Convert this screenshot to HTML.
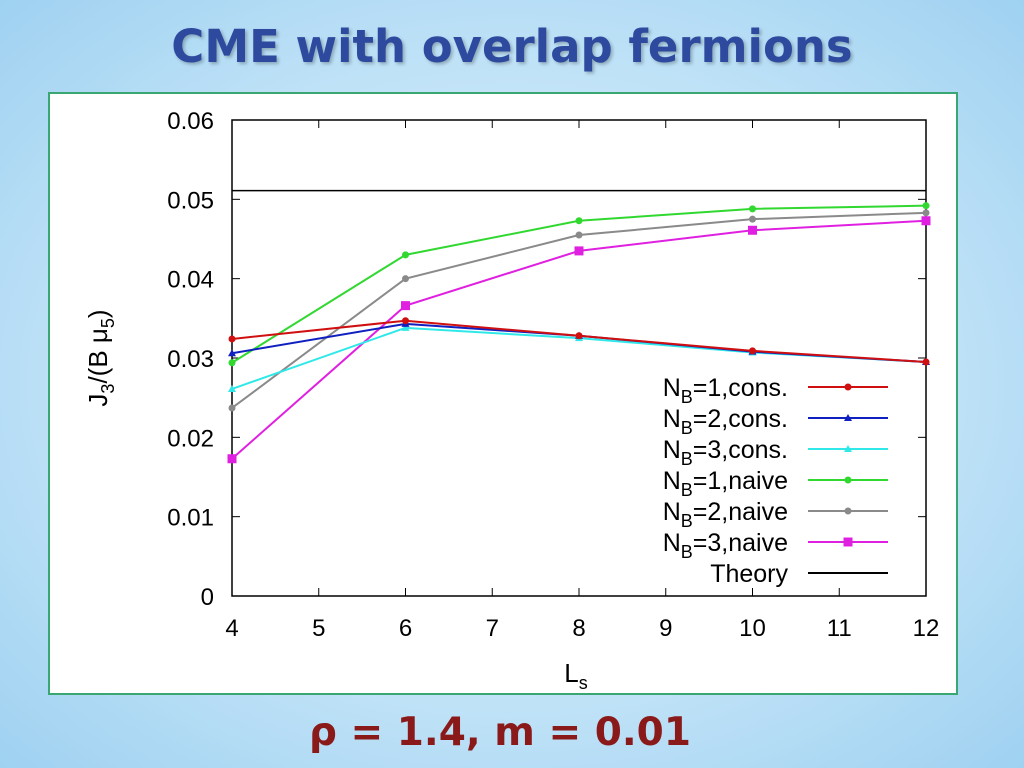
<!DOCTYPE html>
<html><head><meta charset="utf-8"><style>
body{margin:0;width:1024px;height:768px;overflow:hidden;background:radial-gradient(ellipse at center,#e6f4fc 0%,#bfe2f7 60%,#9fd1f1 100%);font-family:"Liberation Sans",sans-serif;}
#title{position:absolute;left:0;width:1024px;top:20px;text-align:center;font-size:45px;font-weight:bold;color:#2d4a9e;font-family:"DejaVu Sans",sans-serif;text-shadow:2px 2px 3px rgba(0,0,0,0.25);}
#panel{position:absolute;left:48px;top:92px;width:906px;height:599px;background:#fff;border:2px solid #3aa772;}
#sub{position:absolute;left:0;width:1000px;top:710px;text-align:center;font-size:39px;font-weight:bold;color:#8a1a1a;font-family:"DejaVu Sans",sans-serif;}
</style></head><body>
<div id="title">CME with overlap fermions</div>
<div id="panel"></div>
<svg id="chart" width="1024" height="768" style="position:absolute;left:0;top:0" font-family="Liberation Sans, sans-serif"></svg>
<div id="sub">ρ = 1.4, m = 0.01</div>
<script>
const xs=[4,6,8,10,12];
const xTicks=[4,5,6,7,8,9,10,11,12];
const yTicks=[0,0.01,0.02,0.03,0.04,0.05,0.06];
const yTickLabels=["0","0.01","0.02","0.03","0.04","0.05","0.06"];
const nb1cons=[0.0324,0.0347,0.0328,0.0309,0.0295];
const nb2cons=[0.0306,0.0343,0.0328,0.0308,0.0295];
const nb3cons=[0.0261,0.0338,0.0325,0.0307,0.0295];
const nb1naive=[0.0294,0.0430,0.0473,0.0488,0.0492];
const nb2naive=[0.0237,0.0400,0.0455,0.0475,0.0483];
const nb3naive=[0.0173,0.0366,0.0435,0.0461,0.0473];
const theory=0.0511;
const seriesNames=["NB=1,cons.","NB=2,cons.","NB=3,cons.","NB=1,naive","NB=2,naive","NB=3,naive"];
const svg=document.getElementById('chart');const NS='http://www.w3.org/2000/svg';
const X0=232,X1=926,Y0=596,Y1=120;
const sx=v=>X0+(v-4)/(12-4)*(X1-X0);
const sy=v=>Y0-(v-0)/(0.06)*(Y0-Y1);
function mk(t,a,p){const e=document.createElementNS(NS,t);for(const k in a)e.setAttribute(k,a[k]);(p||svg).appendChild(e);return e;}
let f=mk('rect',{x:X0,y:Y1,width:X1-X0,height:Y0-Y1,fill:'none',stroke:'#000','stroke-width':1.5});


xTicks.forEach(t=>{const x=sx(t);mk('line',{x1:x,x2:x,y1:Y0,y2:Y0-8,stroke:'#000'});mk('line',{x1:x,x2:x,y1:Y1,y2:Y1+8,stroke:'#000'});
const l=mk('text',{x:x,y:Y0+40,'text-anchor':'middle','font-size':24});l.textContent=t;

});
yTicks.forEach((t,i)=>{const y=sy(t);mk('line',{x1:X0,x2:X0+8,y1:y,y2:y,stroke:'#000'});mk('line',{x1:X1,x2:X1-8,y1:y,y2:y,stroke:'#000'});
const l=mk('text',{x:X0-18,y:y+9,'text-anchor':'end','font-size':24});l.textContent=yTickLabels[i];

});
let xt=mk('text',{x:576,y:682,'text-anchor':'middle','font-size':26});xt.innerHTML='L<tspan font-size="18" dy="7">s</tspan>';


let yt=mk('text',{x:0,y:0,'text-anchor':'middle','font-size':26,transform:'translate(107,358) rotate(-90)'});yt.innerHTML='J<tspan font-size="18" dy="7">3</tspan><tspan dy="-7">/(B μ</tspan><tspan font-size="18" dy="7">5</tspan><tspan dy="-7">)</tspan>';


let th=mk('line',{x1:X0,x2:X1,y1:sy(theory),y2:sy(theory),stroke:'#000','stroke-width':1.5});


const cfg=[[nb1cons,'#d01010','circle'],[nb2cons,'#1020c0','tri'],[nb3cons,'#30e8e8','tri'],[nb1naive,'#30d830','circle'],[nb2naive,'#8a8a8a','circle'],[nb3naive,'#e020e0','square']];
function marker(x,y,c,s){if(s==='square')return mk('rect',{x:x-4.5,y:y-4.5,width:9,height:9,fill:c});if(s==='tri')return mk('polygon',{points:`${x},${y-4} ${x-4},${y+3} ${x+4},${y+3}`,fill:c});return mk('circle',{cx:x,cy:y,r:3.5,fill:c});}
const order=[5,4,3,2,1,0];
order.forEach(i=>{const [d,c,s]=cfg[i];
const p=mk('polyline',{points:d.map((v,j)=>sx(xs[j])+','+sy(v)).join(' '),fill:'none',stroke:c,'stroke-width':2});


d.forEach((v,j)=>{const m=marker(sx(xs[j]),sy(v),c,s);

});});
const labels=[['1','cons.'],['2','cons.'],['3','cons.'],['1','naive'],['2','naive'],['3','naive']];
labels.forEach((lb,i)=>{const y=387+i*31;const [d,c,s]=cfg[i];
const t=mk('text',{x:788,y:y+9,'text-anchor':'end','font-size':25});t.innerHTML='N<tspan font-size="18" dy="7">B</tspan><tspan dy="-7">='+lb[0]+','+lb[1]+'</tspan>';


const l=mk('line',{x1:808,x2:888,y1:y,y2:y,stroke:c,'stroke-width':2});


marker(848,y,c,s);});
let tl=mk('text',{x:788,y:582,'text-anchor':'end','font-size':25});tl.textContent='Theory';


mk('line',{x1:808,x2:888,y1:573,y2:573,stroke:'#000','stroke-width':2});
</script>
</body></html>
